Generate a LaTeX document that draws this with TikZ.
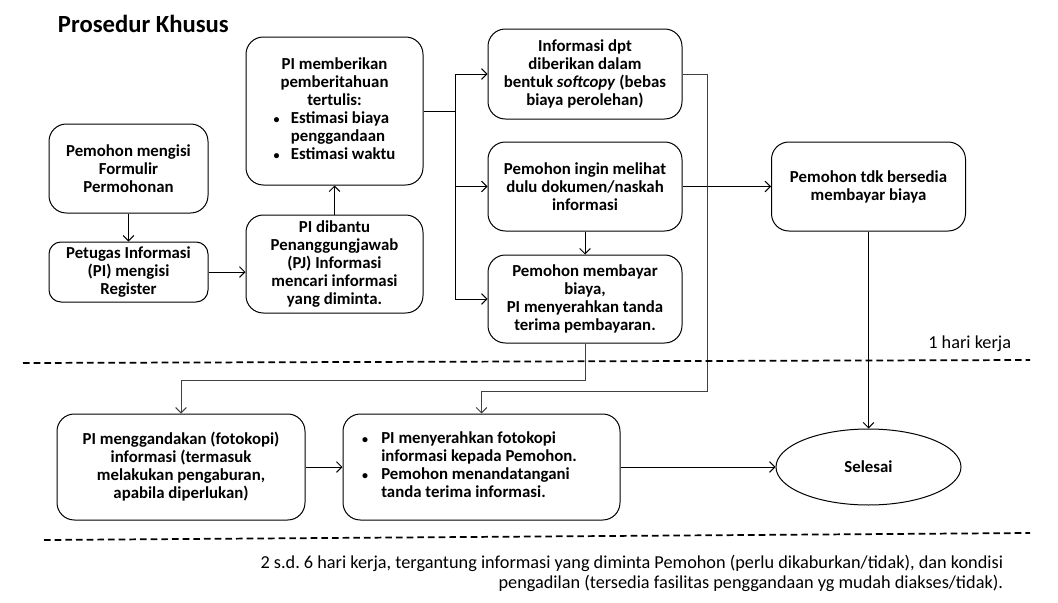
\documentclass[tikz,border=0pt]{standalone}
\usepackage{fontspec}
\setmainfont{Carlito}
\usetikzlibrary{arrows.meta,shapes.geometric}
\newcommand{\tulisan}{\fontsize{12.6}{13.5}\selectfont\bfseries}
\newcommand{\titik}{{\small\textbullet}}
\begin{document}
\begin{tikzpicture}[x=0.75pt,y=-0.75pt,>={Straight Barb[length=4pt,width=8pt]},line width=.75pt,
kotak/.style={draw,rounded corners=13pt,align=center,inner sep=0pt,font=\tulisan},
putus/.style={line width=1.3pt,dash pattern=on 5pt off 3pt}]
\useasboundingbox (0,0) rectangle (1058,603);
\node[anchor=base west,font=\fontsize{18.5}{20}\selectfont\bfseries] (judul) at (53,32) {Prosedur Khusus};
% kolom kiri
\node[kotak,minimum width=119.25pt,minimum height=66.75pt] (formulir) at (128.5,168.5) {Pemohon mengisi\\Formulir\\Permohonan};
\node[kotak,rounded corners=9pt,minimum width=119.25pt,minimum height=45pt] (register) at (128.5,272) {Petugas Informasi\\(PI) mengisi\\Register};
\node[kotak,minimum width=132.75pt,minimum height=73.5pt] (cari) at (334.5,264) {PI dibantu\\Penanggungjawab\\(PJ) Informasi\\mencari informasi\\yang diminta.};
\node[kotak,minimum width=132.75pt,minimum height=111pt] (beritahu) at (334.5,111) {PI memberikan\\pemberitahuan\\tertulis:\\
\begin{tabular}[t]{@{}l@{\hspace{8.5pt}}l@{}}\titik & Estimasi biaya\\ & penggandaan\\ \titik & Estimasi waktu\end{tabular}};
% kolom tengah
\node[kotak,minimum width=145.5pt,minimum height=67.5pt] (softcopy) at (585,74) {Informasi dpt\\diberikan dalam\\bentuk \textit{softcopy} (bebas\\biaya perolehan)};
\node[kotak,minimum width=145.5pt,minimum height=66.75pt] (lihat) at (585,186.5) {Pemohon ingin melihat\\dulu dokumen/naskah\\informasi};
\node[kotak,minimum width=145.5pt,minimum height=66pt] (bayar) at (585,299) {Pemohon membayar\\biaya,\\PI menyerahkan tanda\\terima pembayaran.};
\node[kotak,minimum width=145.5pt,minimum height=66.75pt] (tolak) at (868.5,186.5) {Pemohon tdk bersedia\\membayar biaya};
% baris bawah
\node[kotak,minimum width=186pt,minimum height=79.5pt] (gandakan) at (181,467) {PI menggandakan (fotokopi)\\informasi (termasuk\\melakukan pengaburan,\\apabila diperlukan)};
\node[kotak,minimum width=207.75pt,minimum height=79.5pt,text width=179.25pt,align=flush left] (serahkan) at (481.5,467) {\begin{tabular}[t]{@{}l@{\hspace{10pt}}l@{}}\titik & PI menyerahkan fotokopi\\ & informasi kepada Pemohon.\\ \titik & Pemohon menandatangani\\ & tanda terima informasi.\end{tabular}};
\node[draw,ellipse,inner sep=0pt,minimum width=138.75pt,minimum height=57pt,font=\tulisan] (selesai) at (868.5,467) {Selesai};
% panah
\draw[->] (formulir) -- (register);
\draw[->] (register.east) -- (register.east -| cari.west);
\draw[->] (cari) -- (beritahu);
\coordinate (cabang) at (455,111);
\draw (beritahu.east) -- (cabang);
\draw (cabang |- softcopy.west) -- (cabang |- bayar.west);
\draw[->] (cabang |- softcopy.west) -- (softcopy.west);
\draw[->] (cabang |- lihat.west) -- (lihat.west);
\draw[->] (cabang |- bayar.west) -- (bayar.west);
\draw[->] (lihat) -- (bayar);
\draw[->] (lihat) -- (tolak);
\coordinate (belokE) at (707,391);
\draw[->,black!75] (softcopy.east) -| (belokE) -| (serahkan.north);
\coordinate (belokG) at (585,380);
\draw[->,black!75] (bayar.south) -- (belokG) -| (gandakan.north);
\draw[->] (gandakan) -- (serahkan);
\draw[->] (serahkan) -- (selesai);
\draw[->] (tolak) -- (selesai);
% batas waktu
\draw[putus] (23,363) -- (1030,360);
\draw[putus] (44,540) -- (1030,533);
\node[anchor=east,font=\fontsize{13.7}{15}\selectfont] (hari1) at (1016,344) {1 hari kerja};
\node[anchor=east,align=right,font=\fontsize{13.7}{15}\selectfont] (hari2) at (1008,573) {2 s.d.\ 6 hari kerja, tergantung informasi yang diminta Pemohon (perlu dikaburkan/tidak), dan kondisi\\pengadilan (tersedia fasilitas penggandaan yg mudah diakses/tidak).};
\end{tikzpicture}
\end{document}
